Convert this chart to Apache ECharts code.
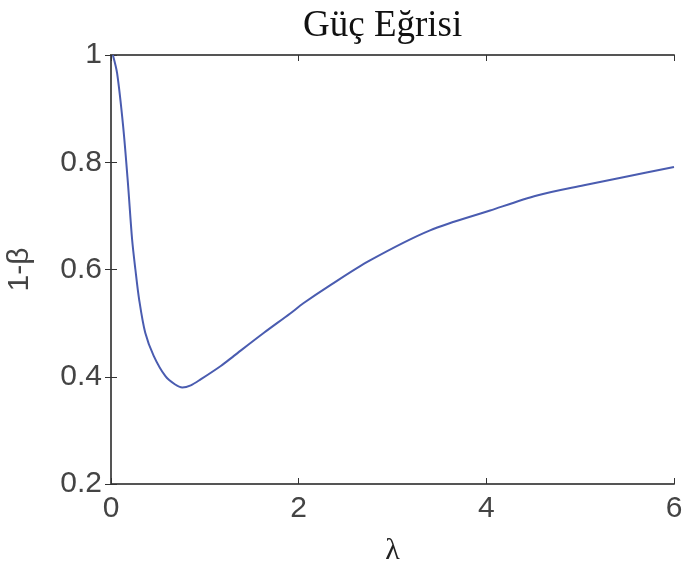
<!DOCTYPE html>
<html><head><meta charset="utf-8">
<script src="https://cdn.jsdelivr.net/npm/echarts@6/dist/echarts.min.js"></script>
<style>html,body{margin:0;padding:0;background:#fff}#c{width:682px;height:571px}</style>
</head><body><div id="c"></div>
<script>
var lambdaVals = [0.02,0.065,0.13,0.18,0.225,0.26,0.30,0.365,0.455,0.58,0.68,0.76,0.85,0.955,1.17,1.31,1.63,1.91,2.05,2.33,2.76,3.40,4.04,4.54,5.04,5.46,6.0];
var powerVals  = [1.0,0.966,0.866,0.762,0.656,0.60,0.544,0.482,0.439,0.401,0.386,0.380,0.384,0.395,0.42,0.439,0.482,0.518,0.537,0.570,0.617,0.673,0.710,0.738,0.757,0.772,0.791];
var xTicks = [0,2,4,6];
var yTicks = [0.2,0.4,0.6,0.8,1];
var titleText = 'Güç Eğrisi';
var xName = 'λ';
var yName = '1-β';

var data = lambdaVals.map(function(x,i){return [x,powerVals[i]];});
var chart = echarts.init(document.getElementById('c'), null, {renderer:'canvas'});
var axisLine = {show:true, lineStyle:{color:'#555', width:2}};
var lbl = {color:'#444', fontSize:30, fontFamily:'Liberation Sans, Arial, sans-serif'};
chart.setOption({
  animation:false,
  backgroundColor:'#fff',
  title:{text:titleText, left:298, top:3, textStyle:{fontFamily:'Liberation Serif, Times New Roman, serif', fontSize:37, fontWeight:'normal', color:'#111'}},
  grid:{left:111, right:8, top:55, bottom:87, containLabel:false, outerBoundsMode:'none'},
  xAxis:[
    {type:'value', min:xTicks[0], max:xTicks[xTicks.length-1], interval:2, position:'bottom',
     axisLine:axisLine, axisTick:{show:true, inside:true, length:6, lineStyle:{color:'#333'}},
     axisLabel:Object.assign({margin:10}, lbl), splitLine:{show:false},
     name:xName, nameLocation:'middle', nameGap:52, nameTextStyle:{fontSize:30, color:'#222', fontFamily:'Liberation Serif, serif'}},
    {type:'value', min:0, max:6, interval:2, position:'top',
     axisLine:axisLine, axisTick:{show:true, inside:true, length:6, lineStyle:{color:'#333'}},
     axisLabel:{show:false}, splitLine:{show:false}}
  ],
  yAxis:[
    {type:'value', min:yTicks[0], max:yTicks[yTicks.length-1], interval:0.2, position:'left',
     axisLine:axisLine, axisTick:{show:true, inside:true, length:6, lineStyle:{color:'#333'}},
     axisLabel:Object.assign({margin:9}, lbl), splitLine:{show:false},
     name:yName, nameLocation:'middle', nameGap:76, nameRotate:90, nameTextStyle:{fontSize:30, color:'#444', fontFamily:'Liberation Sans, Arial, sans-serif'}},
    {type:'value', min:0.2, max:1, interval:0.2, position:'right',
     axisLine:axisLine, axisTick:{show:true, inside:true, length:6, lineStyle:{color:'#333'}},
     axisLabel:{show:false}, splitLine:{show:false}}
  ],
  series:[{type:'line', data:data, smooth:0.3, showSymbol:false, symbol:'none',
    lineStyle:{color:'#4a5cb0', width:2}, xAxisIndex:0, yAxisIndex:0}]
});
</script></body></html>
